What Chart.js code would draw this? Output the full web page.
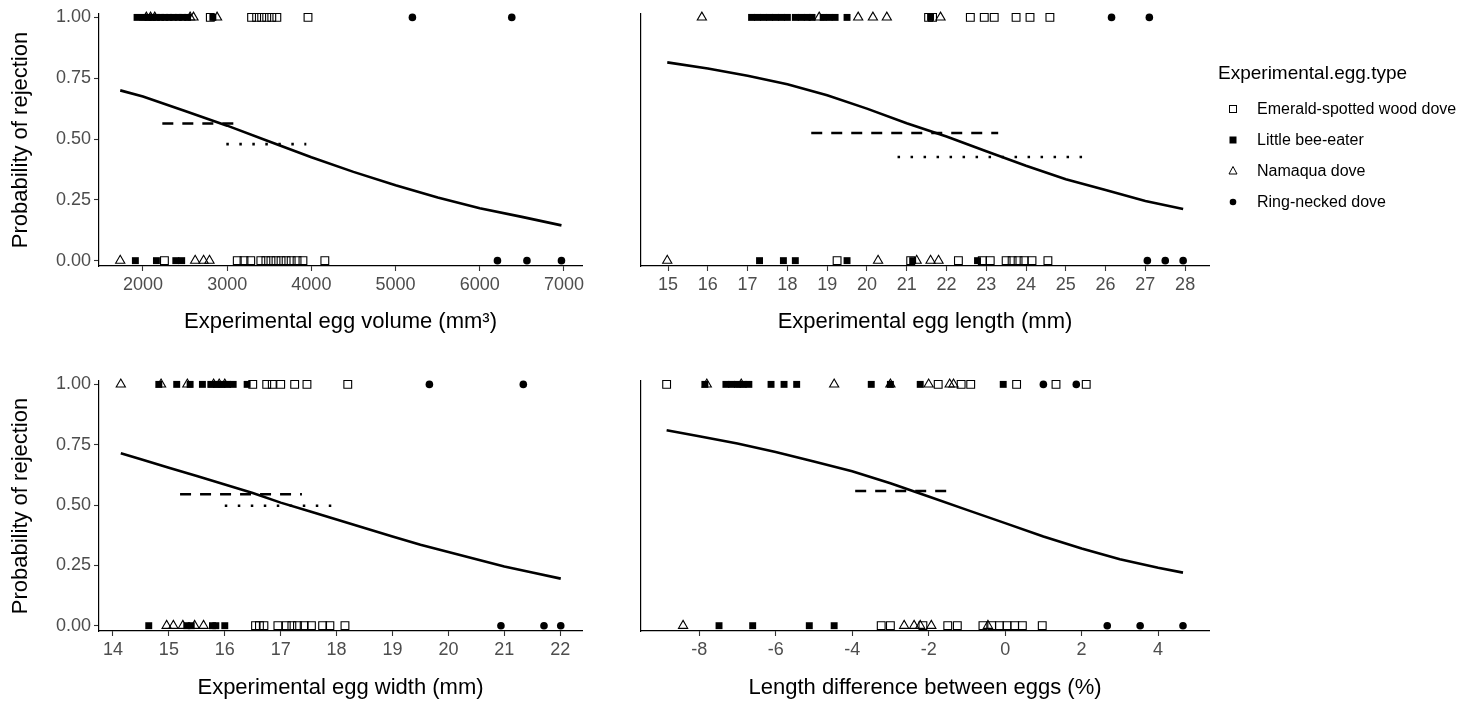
<!DOCTYPE html>
<html>
<head>
<meta charset="utf-8">
<script src="https://cdn.jsdelivr.net/npm/chart.js@4.4.0/dist/chart.umd.min.js"></script>
<style>
  body { margin: 0; background: #fff; width: 1472px; height: 701px; position: relative; overflow: hidden;
         font-family: "Liberation Sans", Arial, sans-serif; }
  canvas { position: absolute; }
  #legend { position: absolute; left: 0; top: 0; }
  .lg-title { position: absolute; left: 1218px; top: 62px; font-size: 19px; color: #000; white-space: nowrap; }
  .lg-item { position: absolute; left: 1226px; height: 20px; font-size: 16px; color: #000; white-space: nowrap; }
  .lg-item svg { position: absolute; left: 0; top: 3px; }
  .lg-item span { position: absolute; left: 31px; top: 1px; }
</style>
</head>
<body>
<canvas id="cVol" style="left:0;top:0" width="600" height="345"></canvas>
<canvas id="cLen" style="left:560px;top:0" width="670" height="345"></canvas>
<canvas id="cWid" style="left:0;top:345px" width="600" height="356"></canvas>
<canvas id="cDif" style="left:560px;top:345px" width="670" height="356"></canvas>

<div id="legend">
  <div class="lg-title">Experimental.egg.type</div>
  <div class="lg-item" style="top:99px"><svg width="14" height="14"><rect x="3.5" y="3.5" width="7" height="7" fill="none" stroke="#000" stroke-width="1"/></svg><span>Emerald-spotted wood dove</span></div>
  <div class="lg-item" style="top:130px"><svg width="14" height="14"><rect x="3.5" y="3.5" width="7" height="7" fill="#000"/></svg><span>Little bee-eater</span></div>
  <div class="lg-item" style="top:161px"><svg width="14" height="14"><polygon points="7,2.5 11,10 3,10" fill="none" stroke="#000" stroke-width="1"/></svg><span>Namaqua dove</span></div>
  <div class="lg-item" style="top:192px"><svg width="14" height="14"><circle cx="7" cy="7" r="3.3" fill="#000"/></svg><span>Ring-necked dove</span></div>
</div>

<script>
// y axis (probability)
var yTicks = [0, 0.25, 0.5, 0.75, 1];

// --- Experimental egg volume (mm³) ---
var volTicks = [2000, 3000, 4000, 5000, 6000, 7000];
var volEmeraldRej = [2800, 3290, 3350, 3410, 3470, 3530, 3590, 3960];
var volEmeraldAcc = [2255, 3120, 3200, 3280, 3400, 3460, 3520, 3580, 3640, 3700, 3760, 3830, 3900, 4160];
var volBeeRej = [1930, 2000, 2060, 2110, 2160, 2210, 2260, 2310, 2360, 2420, 2470, 2530, 2830];
var volBeeAcc = [1910, 2160, 2390, 2460];
var volNamaquaRej = [2040, 2090, 2140, 2560, 2600, 2880];
var volNamaquaAcc = [1730, 2620, 2720, 2790];
var volRingRej = [5200, 6380];
var volRingAcc = [6210, 6560, 6970];
var volCurveX = [1730, 2000, 2500, 3000, 3500, 4000, 4500, 5000, 5500, 6000, 6500, 6970];
var volCurveP = [0.70, 0.675, 0.615, 0.555, 0.49, 0.425, 0.365, 0.31, 0.26, 0.215, 0.18, 0.145];
var volDashed = [2230, 3150, 0.564];
var volDotted = [2990, 3940, 0.479];

// --- Experimental egg length (mm) ---
var lenTicks = [15, 16, 17, 18, 19, 20, 21, 22, 23, 24, 25, 26, 27, 28];
var lenEmeraldRej = [21.55, 21.65, 22.6, 22.95, 23.2, 23.75, 24.1, 24.6];
var lenEmeraldAcc = [19.25, 21.1, 22.3, 22.9, 23.1, 23.5, 23.65, 23.8, 23.95, 24.15, 24.55];
var lenBeeRej = [17.1, 17.25, 17.4, 17.55, 17.7, 17.85, 18.0, 18.2, 18.35, 18.5, 18.62, 18.9, 19.05, 19.2, 19.5, 21.6];
var lenBeeAcc = [17.3, 17.9, 18.2, 19.5, 21.15, 22.78];
var lenNamaquaRej = [15.85, 18.8, 19.78, 20.15, 20.5, 21.85];
var lenNamaquaAcc = [14.98, 20.28, 21.25, 21.6, 21.8];
var lenRingRej = [26.15, 27.1];
var lenRingAcc = [27.05, 27.5, 27.95];
var lenCurveX = [14.98, 16, 17, 18, 19, 20, 21, 22, 23, 24, 25, 26, 27, 27.95];
var lenCurveP = [0.815, 0.79, 0.76, 0.725, 0.68, 0.625, 0.565, 0.51, 0.45, 0.39, 0.335, 0.29, 0.245, 0.212];
var lenDashed = [18.6, 23.3, 0.525];
var lenDotted = [20.77, 25.6, 0.426];

// --- Experimental egg width (mm) ---
var widTicks = [14, 15, 16, 17, 18, 19, 20, 21, 22];
var widEmeraldRej = [16.5, 16.75, 16.85, 17.0, 17.25, 17.47, 18.2];
var widEmeraldAcc = [16.55, 16.62, 16.7, 16.95, 17.1, 17.2, 17.3, 17.42, 17.55, 17.75, 17.88, 18.15];
var widBeeRej = [14.82, 15.14, 15.38, 15.6, 15.75, 15.85, 15.95, 16.05, 16.15, 16.4];
var widBeeAcc = [14.64, 15.32, 15.4, 15.78, 15.84, 16.0];
var widNamaquaRej = [14.14, 14.86, 15.33, 15.8, 15.9, 16.0];
var widNamaquaAcc = [14.96, 15.08, 15.25, 15.46, 15.62];
var widRingRej = [19.66, 21.34];
var widRingAcc = [20.94, 21.71, 22.01];
var widCurveX = [14.14, 14.5, 15, 15.5, 16, 16.5, 17, 17.5, 18, 18.5, 19, 19.5, 20, 20.5, 21, 21.5, 22.01];
var widCurveP = [0.715, 0.69, 0.655, 0.62, 0.585, 0.55, 0.51, 0.475, 0.44, 0.405, 0.37, 0.335, 0.305, 0.275, 0.245, 0.22, 0.195];
var widDashed = [15.2, 17.38, 0.545];
var widDotted = [16.0, 18.0, 0.497];

// --- Length difference between eggs (%) ---
var difTicks = [-8, -6, -4, -2, 0, 2, 4];
var difEmeraldRej = [-8.85, -1.75, -1.15, -0.9, 0.3, 1.33, 2.12];
var difEmeraldAcc = [-3.24, -3.0, -2.15, -1.5, -1.25, -0.58, -0.35, -0.15, 0.05, 0.25, 0.45, 0.97];
var difBeeRej = [-7.85, -7.3, -7.15, -7.0, -6.85, -6.7, -6.12, -5.78, -5.45, -3.5, -3.0, -2.22, -0.05];
var difBeeAcc = [-7.48, -6.6, -5.12, -4.47];
var difNamaquaRej = [-7.8, -6.9, -4.47, -3.0, -2.0, -1.45, -1.35];
var difNamaquaAcc = [-8.42, -2.64, -2.38, -2.22, -1.93, -0.45];
var difRingRej = [1.0, 1.86];
var difRingAcc = [2.67, 3.53, 4.65];
var difCurveX = [-8.85, -8, -7, -6, -5, -4, -3, -2, -1, 0, 1, 2, 3, 4, 4.65];
var difCurveP = [0.81, 0.785, 0.755, 0.72, 0.68, 0.64, 0.59, 0.535, 0.48, 0.425, 0.37, 0.32, 0.275, 0.24, 0.22];
var difDashed = [-3.92, -1.36, 0.558];

var FONT = '"Liberation Sans", Arial, sans-serif';

function pts(xs, y) {
    return xs.map(function(x) { return {x: x, y: y}; });
}

function symbolSet(rej, acc, style, radius, filled) {
    return {
        data: pts(rej, 1).concat(pts(acc, 0)),
        pointStyle: style,
        pointRadius: radius,
        backgroundColor: filled ? '#000' : 'rgba(0,0,0,0)',
        borderColor: '#000',
        borderWidth: filled ? 0 : 1.1,
        clip: false
    };
}

function lineSet(xs, ys, dash) {
    return {
        data: xs.map(function(x, i) { return {x: x, y: ys[i]}; }),
        showLine: true,
        pointRadius: 0,
        borderColor: '#000',
        borderWidth: 2.6,
        borderDash: dash || [],
        tension: 0,
        clip: false
    };
}

function segment(seg, dash) {
    return lineSet([seg[0], seg[1]], [seg[2], seg[2]], dash);
}

function makePanel(id, p) {
    var datasets = [
        lineSet(p.curveX, p.curveP),
        segment(p.dashed, [11, 9])
    ];
    if (p.dotted) datasets.push(segment(p.dotted, [2.5, 10.5]));
    datasets.push(symbolSet(p.ring[0], p.ring[1], 'circle', 3.8, true));
    datasets.push(symbolSet(p.namaqua[0], p.namaqua[1], 'triangle', 5.3, false));
    datasets.push(symbolSet(p.bee[0], p.bee[1], 'rect', 4.9, true));
    datasets.push(symbolSet(p.emerald[0], p.emerald[1], 'rect', 5.5, false));

    new Chart(document.getElementById(id), {
        type: 'scatter',
        data: { datasets: datasets },
        options: {
            responsive: false,
            animation: false,
            events: [],
            layout: { padding: { left: 0, top: p.padTop, right: p.padRight, bottom: 0 } },
            plugins: { legend: { display: false }, tooltip: { enabled: false } },
            scales: {
                x: {
                    type: 'linear',
                    min: p.xmin,
                    max: p.xmax,
                    afterBuildTicks: function(s) { s.ticks = p.ticks.map(function(v) { return {value: v}; }); },
                    afterFit: function(s) { s.height = p.xHeight; },
                    ticks: {
                        autoSkip: false, maxRotation: 0, padding: 3,
                        color: '#4d4d4d', font: { family: FONT, size: 18 },
                        callback: function(v) { return String(v); }
                    },
                    grid: { display: true, drawOnChartArea: false, drawTicks: true, tickLength: 5, tickColor: '#333', tickWidth: 1.1 },
                    border: { display: true, color: '#000', width: 1.2 },
                    title: {
                        display: true, text: p.xTitle, color: '#000',
                        font: { family: FONT, size: 22 },
                        padding: { top: 0, bottom: p.titlePadBottom }
                    }
                },
                y: {
                    type: 'linear',
                    min: -0.022,
                    max: 1.014,
                    afterBuildTicks: function(s) { s.ticks = yTicks.map(function(v) { return {value: v}; }); },
                    afterFit: function(s) { s.width = p.yWidth; },
                    ticks: {
                        display: p.showY, padding: 3,
                        color: '#4d4d4d', font: { family: FONT, size: 18 },
                        callback: function(v) { return v.toFixed(2); }
                    },
                    grid: { display: p.showY, drawOnChartArea: false, drawTicks: true, tickLength: 5, tickColor: '#333', tickWidth: 1.1 },
                    border: { display: true, color: '#000', width: 1.2 },
                    title: {
                        display: p.showY, text: 'Probability of rejection', color: '#000',
                        font: { family: FONT, size: 22 },
                        padding: { top: 8, bottom: 0 }
                    }
                }
            }
        }
    });
}

makePanel('cVol', {
    ticks: volTicks, xmin: 1478, xmax: 7214, xTitle: 'Experimental egg volume (mm³)',
    emerald: [volEmeraldRej, volEmeraldAcc], bee: [volBeeRej, volBeeAcc],
    namaqua: [volNamaquaRej, volNamaquaAcc], ring: [volRingRej, volRingAcc],
    curveX: volCurveX, curveP: volCurveP, dashed: volDashed, dotted: volDotted,
    padTop: 14, padRight: 18, xHeight: 79, yWidth: 99, showY: true, titlePadBottom: 10
});

makePanel('cLen', {
    ticks: lenTicks, xmin: 14.32, xmax: 28.6, xTitle: 'Experimental egg length (mm)',
    emerald: [lenEmeraldRej, lenEmeraldAcc], bee: [lenBeeRej, lenBeeAcc],
    namaqua: [lenNamaquaRej, lenNamaquaAcc], ring: [lenRingRej, lenRingAcc],
    curveX: lenCurveX, curveP: lenCurveP, dashed: lenDashed, dotted: lenDotted,
    padTop: 14, padRight: 21, xHeight: 79, yWidth: 81, showY: false, titlePadBottom: 10
});

makePanel('cWid', {
    ticks: widTicks, xmin: 13.75, xmax: 22.39, xTitle: 'Experimental egg width (mm)',
    emerald: [widEmeraldRej, widEmeraldAcc], bee: [widBeeRej, widBeeAcc],
    namaqua: [widNamaquaRej, widNamaquaAcc], ring: [widRingRej, widRingAcc],
    curveX: widCurveX, curveP: widCurveP, dashed: widDashed, dotted: widDotted,
    padTop: 36, padRight: 18, xHeight: 70, yWidth: 99, showY: true, titlePadBottom: 0
});

makePanel('cDif', {
    ticks: difTicks, xmin: -9.52, xmax: 5.33, xTitle: 'Length difference between eggs (%)',
    emerald: [difEmeraldRej, difEmeraldAcc], bee: [difBeeRej, difBeeAcc],
    namaqua: [difNamaquaRej, difNamaquaAcc], ring: [difRingRej, difRingAcc],
    curveX: difCurveX, curveP: difCurveP, dashed: difDashed, dotted: null,
    padTop: 36, padRight: 21, xHeight: 70, yWidth: 81, showY: false, titlePadBottom: 0
});
</script>
</body>
</html>
